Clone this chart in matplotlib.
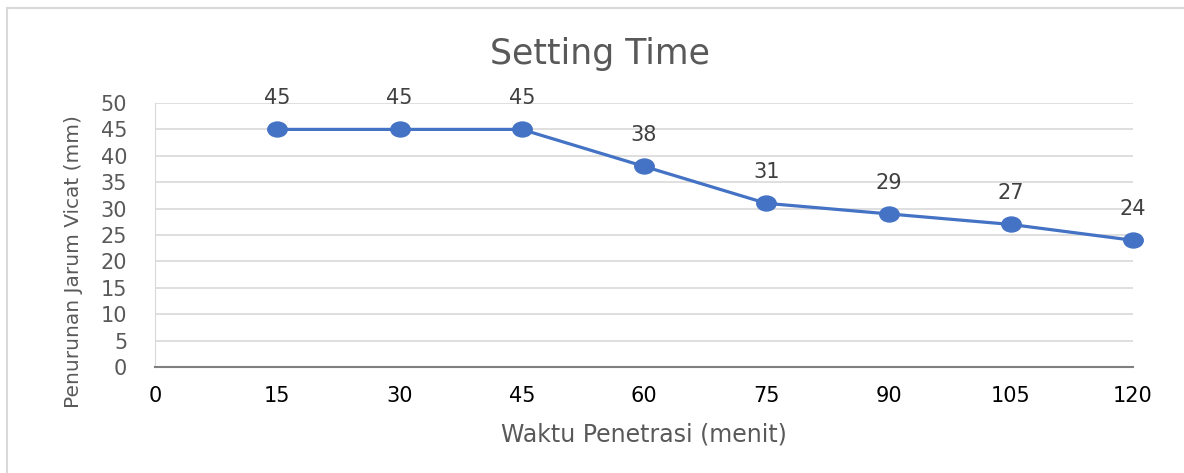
import numpy as np
import matplotlib.pyplot as plt
from matplotlib.lines import Line2D
from matplotlib.path import Path
from matplotlib.transforms import Affine2D

plt.rcParams['font.family'] = ['DejaVu Sans']

waktu = [15, 30, 45, 60, 75, 90, 105, 120]
penurunan = [45, 45, 45, 38, 31, 29, 27, 24]
x_ticks = [0, 15, 30, 45, 60, 75, 90, 105, 120]
y_ticks = [0, 5, 10, 15, 20, 25, 30, 35, 40, 45, 50]

W, H = 1184, 473
fig = plt.figure(figsize=(W / 100, H / 100), dpi=100)
ax = fig.add_axes([155 / W, 1 - 367 / H, 978 / W, 264 / H])

# chart frame (only top and left edges are visible in the reference)
fig.add_artist(Line2D([7 / W, 1], [1 - 8.5 / H] * 2, color='#d9d9d9',
                      linewidth=1.5, transform=fig.transFigure))
fig.add_artist(Line2D([7 / W] * 2, [0, 1 - 8.5 / H], color='#d9d9d9',
                      linewidth=1.5, transform=fig.transFigure))

# slightly wide oval marker, like the stretched reference
oval = Path.unit_circle().transformed(Affine2D().scale(1.3, 1.0))

ax.plot(waktu, penurunan, color='#4472c4', linewidth=2.3, marker=oval,
        markersize=14, zorder=3, clip_on=False)
for x, y in zip(waktu, penurunan):
    ax.annotate(str(y), (x, y), xytext=(0, 22.5), textcoords='offset points',
                ha='center', va='center', fontsize=15, color='#404040')

ax.set_xlim(0, 120)
ax.set_ylim(0, 50)
ax.set_xticks(x_ticks)
ax.set_yticks(y_ticks)
ax.grid(axis='y', color='#d9d9d9', linewidth=1.2)
ax.set_axisbelow(True)
for s in ['top', 'right']:
    ax.spines[s].set_visible(False)
ax.spines['left'].set_color('#d9d9d9')
ax.spines['bottom'].set_color('#7f7f7f')
ax.spines['bottom'].set_linewidth(1.5)
ax.tick_params(length=0, labelsize=15)
ax.tick_params(axis='x', pad=14, colors='black')
ax.tick_params(axis='y', pad=20, labelcolor='#595959')

fig.text(600 / W, 1 - 54 / H, 'Setting Time', fontsize=25, color='#595959',
         ha='center', va='center')
ax.set_xlabel('Waktu Penetrasi (menit)', fontsize=17, color='#595959')
ax.xaxis.set_label_coords(0.5, (367 - 422) / 264)
ax.set_ylabel('Penurunan Jarum Vicat (mm)', fontsize=14.5, color='#595959')
ax.yaxis.set_label_coords((83 - 155) / 978, (367 - 262) / 264)

fig.savefig('out.png', dpi=100)
